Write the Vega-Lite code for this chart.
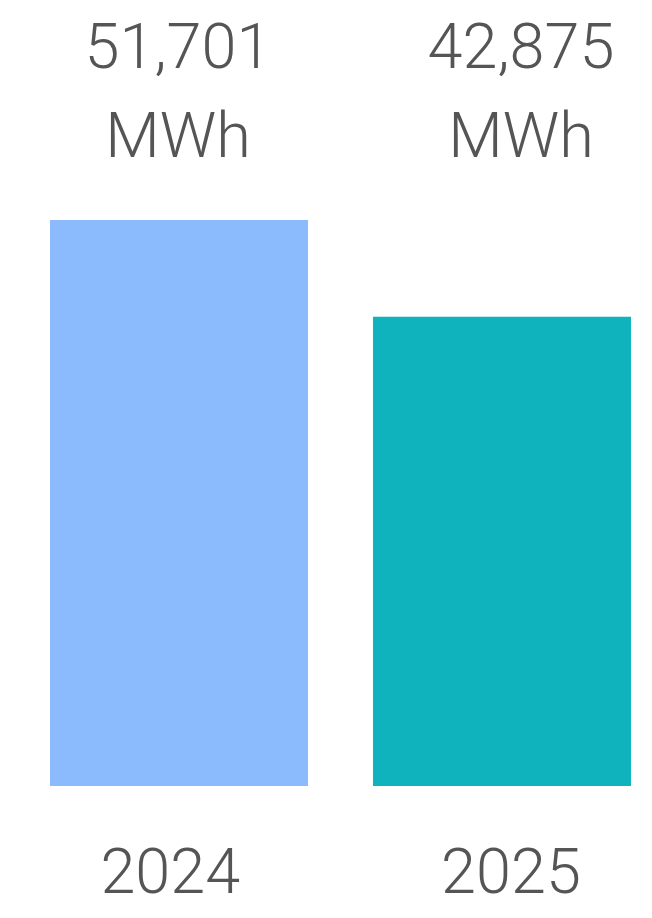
{
  "$schema": "https://vega.github.io/schema/vega-lite/v6.json",
  "width": 652,
  "height": 786,
  "autosize": {"type": "none"},
  "padding": {"left": 0, "top": 0, "right": 0, "bottom": 132},
  "background": "#ffffff",
  "config": {
    "view": {"stroke": null},
    "text": {"font": "'Roboto Light', Roboto", "fontWeight": 300, "fontSize": 63, "color": "#555555", "baseline": "alphabetic", "align": "center"}
  },
  "data": {
    "values": [
      {"year": "2024", "energy": 51701, "unit": "MWh"},
      {"year": "2025", "energy": 42875, "unit": "MWh"}
    ]
  },
  "layer": [
    {
      "mark": {"type": "bar"},
      "encoding": {
        "x": {
          "field": "year", "type": "nominal", "axis": null,
          "scale": {"type": "band", "paddingInner": 0.2012, "paddingOuter": 0.1099, "align": 0.704}
        },
        "y": {
          "field": "energy", "type": "quantitative", "axis": null,
          "scale": {"domain": [0, 71800], "nice": false, "zero": true}
        },
        "color": {
          "field": "year", "type": "nominal", "legend": null,
          "scale": {"domain": ["2024", "2025"], "range": ["#8bbbfd", "#0fb3bd"]}
        }
      }
    },
    {
      "encoding": {
        "x": {
          "field": "year", "type": "nominal", "axis": null,
          "scale": {"type": "point", "padding": 0.4504, "align": 0.576}
        },
        "y": {"datum": 71800, "type": "quantitative"}
      },
      "layer": [
        {
          "mark": {"type": "text", "dy": 68},
          "encoding": {"text": {"field": "energy", "type": "quantitative", "format": ",d"}}
        },
        {
          "mark": {"type": "text", "dy": 157},
          "encoding": {"text": {"field": "unit", "type": "nominal"}}
        }
      ]
    },
    {
      "mark": {"type": "text", "dy": 107},
      "encoding": {
        "x": {
          "field": "year", "type": "nominal", "axis": null,
          "scale": {"type": "point", "padding": 0.457, "align": 0.547}
        },
        "y": {"datum": 0, "type": "quantitative"},
        "text": {"field": "year", "type": "nominal"}
      }
    }
  ],
  "resolve": {"scale": {"x": "independent"}}
}
